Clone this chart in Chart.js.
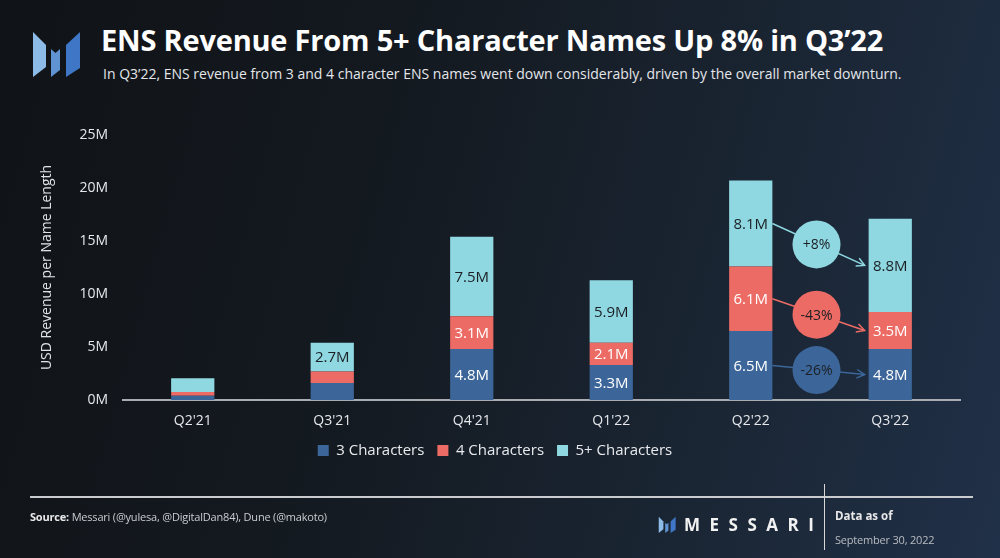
<!DOCTYPE html>
<html>
<head>
<meta charset="utf-8">
<script src="https://cdn.jsdelivr.net/npm/chart.js@4"></script>
<style>
    html, body {
        margin: 0;
        padding: 0;
    }
    body {
        width: 1000px;
        height: 558px;
        overflow: hidden;
        position: relative;
        font-family: "Open Sans", sans-serif;
        background: linear-gradient(105deg, #101317 0%, #141a21 40%, #1b2736 75%, #203048 100%);
    }
    #chart {
        position: absolute;
        left: 0;
        top: 0;
    }
    .logo {
        position: absolute;
        left: 31px;
        top: 30px;
    }
    .title {
        position: absolute;
        left: 101px;
        top: 20px;
        font-size: 29px;
        font-weight: 700;
        color: #ffffff;
        white-space: nowrap;
        letter-spacing: -0.2px;
    }
    .subtitle {
        position: absolute;
        left: 103px;
        top: 64px;
        font-size: 14px;
        color: #e4e6ea;
        white-space: nowrap;
    }
    .rule {
        position: absolute;
        left: 30px;
        top: 496px;
        width: 943px;
        height: 2px;
        background: #c9cbce;
    }
    .divider {
        position: absolute;
        left: 824px;
        top: 484px;
        width: 1px;
        height: 66px;
        background: #d8d8d8;
    }
    .source {
        position: absolute;
        left: 30px;
        top: 509px;
        font-size: 11px;
        color: #c9ccd0;
        white-space: nowrap;
        letter-spacing: -0.2px;
    }
    .source b {
        color: #e8e8e8;
    }
    .brand {
        position: absolute;
        left: 656px;
        top: 513px;
        display: flex;
        align-items: center;
    }
    .brand span {
        font-size: 17px;
        font-weight: 700;
        color: #f2f2f2;
        letter-spacing: 9.5px;
        margin-left: 6px;
    }
    .asof {
        position: absolute;
        left: 835px;
        top: 508px;
        font-size: 11.5px;
        font-weight: 700;
        color: #e8e8e8;
    }
    .asof-date {
        position: absolute;
        left: 835px;
        top: 532px;
        font-size: 11px;
        color: #b8bcc2;
        letter-spacing: -0.2px;
    }
</style>
</head>
<body>
<svg class="logo" width="50" height="50" viewBox="0 0 50 50">
    <polygon points="2,2 15,15 15,37 2,47" fill="#8dbbe8"/>
    <polygon points="20,19 24.5,23 29,19 29,40 20,47" fill="#5f93d2"/>
    <polygon points="35,15 49,2 49,38 35,47" fill="#3f77c6"/>
</svg>
<div class="title">ENS Revenue From 5+ Character Names Up 8% in Q3’22</div>
<div class="subtitle">In Q3’22, ENS revenue from 3 and 4 character ENS names went down considerably, driven by the overall market downturn.</div>

<canvas id="chart" width="1000" height="558"></canvas>

<div class="rule"></div>
<div class="divider"></div>
<div class="source"><b>Source:</b> Messari (@yulesa, @DigitalDan84), Dune (@makoto)</div>
<div class="brand">
    <svg width="22" height="18" viewBox="0 0 50 50">
        <polygon points="2,2 15,15 15,37 2,47" fill="#8dbbe8"/>
        <polygon points="20,19 24.5,23 29,19 29,40 20,47" fill="#5f93d2"/>
        <polygon points="35,15 49,2 49,38 35,47" fill="#3f77c6"/>
    </svg>
    <span>MESSARI</span>
</div>
<div class="asof">Data as of</div>
<div class="asof-date">September 30, 2022</div>

<script>
// 数据
const quarters = ["Q2'21", "Q3'21", "Q4'21", "Q1'22", "Q2'22", "Q3'22"];
const threeChars = [0.4, 1.6, 4.8, 3.3, 6.5, 4.8];
const fourChars = [0.35, 1.1, 3.1, 2.1, 6.1, 3.5];
const fivePlusChars = [1.3, 2.7, 7.5, 5.9, 8.1, 8.8];
const seriesNames = ['3 Characters', '4 Characters', '5+ Characters'];
const changeLabels = ['-26%', '-43%', '+8%'];
const yTicks = [0, 5, 10, 15, 20, 25];

const colors = ['#3c6699', '#ec6b64', '#8fd8e1'];
const labelColors = ['#ffffff', '#ffffff', '#1b1f24'];

// 柱内数值标签
const valueLabels = {
    id: 'valueLabels',
    afterDatasetsDraw(chart) {
        const ctx = chart.ctx;
        ctx.save();
        ctx.font = '15px "Open Sans"';
        ctx.textAlign = 'center';
        ctx.textBaseline = 'middle';
        chart.data.datasets.forEach((ds, i) => {
            chart.getDatasetMeta(i).data.forEach((bar, j) => {
                const h = bar.base - bar.y;
                if (h < 20) return;
                ctx.fillStyle = labelColors[i];
                ctx.fillText(ds.data[j].toFixed(1) + 'M', bar.x, (bar.y + bar.base) / 2 + 1);
            });
        });
        ctx.restore();
    }
};

// Q2'22 -> Q3'22 变化箭头和圆圈
const changeArrows = {
    id: 'changeArrows',
    afterDatasetsDraw(chart) {
        const ctx = chart.ctx;
        const from = quarters.length - 2;
        const to = quarters.length - 1;
        ctx.save();
        chart.data.datasets.forEach((ds, i) => {
            const meta = chart.getDatasetMeta(i);
            const a = meta.data[from];
            const b = meta.data[to];
            const x1 = a.x + a.width / 2;
            const y1 = (a.y + a.base) / 2;
            const x2 = b.x - b.width / 2 - 4;
            const y2 = (b.y + b.base) / 2;

            ctx.strokeStyle = colors[i];
            ctx.lineWidth = 1.5;
            ctx.beginPath();
            ctx.moveTo(x1, y1);
            ctx.lineTo(x2, y2);
            ctx.stroke();

            // 箭头
            const ang = Math.atan2(y2 - y1, x2 - x1);
            const len = 9;
            ctx.beginPath();
            ctx.moveTo(x2 - len * Math.cos(ang - 0.5), y2 - len * Math.sin(ang - 0.5));
            ctx.lineTo(x2, y2);
            ctx.lineTo(x2 - len * Math.cos(ang + 0.5), y2 - len * Math.sin(ang + 0.5));
            ctx.stroke();

            // 圆圈
            const cx = (x1 + x2) / 2 - 2;
            const cy = (y1 + y2) / 2;
            ctx.fillStyle = colors[i];
            ctx.beginPath();
            ctx.arc(cx, cy, 24, 0, Math.PI * 2);
            ctx.fill();

            ctx.fillStyle = '#1b1f24';
            ctx.font = '14px "Open Sans"';
            ctx.textAlign = 'center';
            ctx.textBaseline = 'middle';
            ctx.fillText(changeLabels[i], cx, cy + 1);
        });
        ctx.restore();
    }
};

const datasets = [threeChars, fourChars, fivePlusChars].map((values, i) => ({
    label: seriesNames[i],
    data: values,
    backgroundColor: colors[i],
    borderWidth: 0,
    barPercentage: 0.31,
    categoryPercentage: 1
}));

new Chart(document.getElementById('chart'), {
    type: 'bar',
    data: { labels: quarters, datasets },
    plugins: [valueLabels, changeArrows],
    options: {
        responsive: false,
        animation: false,
        layout: {
            padding: { top: 135, left: 30, right: 40, bottom: 90 }
        },
        scales: {
            x: {
                stacked: true,
                grid: { display: false },
                border: { display: true, color: '#a9adb2', width: 2 },
                ticks: {
                    color: '#e6e8eb',
                    font: { family: 'Open Sans', size: 14 },
                    padding: 5
                },
                afterFit(scale) { scale.height = 30; }
            },
            y: {
                stacked: true,
                min: 0,
                max: 25,
                grid: { display: false },
                border: { display: false },
                afterBuildTicks(scale) {
                    scale.ticks = yTicks.map(v => ({ value: v }));
                },
                ticks: {
                    color: '#e6e8eb',
                    font: { family: 'Open Sans', size: 14 },
                    padding: 7,
                    callback: v => v + 'M'
                },
                title: {
                    display: true,
                    text: 'USD Revenue per Name Length',
                    color: '#e0e3e6',
                    font: { family: 'Open Sans', size: 14 },
                    padding: { top: 9, bottom: 0 }
                },
                afterFit(scale) { scale.width = 93; }
            }
        },
        plugins: {
            legend: {
                position: 'bottom',
                labels: {
                    color: '#e8eaed',
                    font: { family: 'Open Sans', size: 15 },
                    boxWidth: 11,
                    boxHeight: 11,
                    padding: 13
                }
            },
            tooltip: { enabled: false }
        }
    }
});
</script>
</body>
</html>
